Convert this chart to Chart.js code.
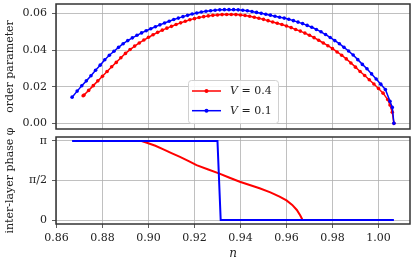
<!DOCTYPE html>
<html lang="en">
<head>
<meta charset="UTF-8">
<title>Order parameter and inter-layer phase</title>
<script src="https://cdn.jsdelivr.net/npm/chart.js"></script>
<style>
  body { margin: 0; background: #fff; }
  #wrap { position: relative; width: 415px; height: 264px; }
  #wrap canvas { position: absolute; left: 0; }
  #top { top: 0; }
  #bottom { top: 118px; }
</style>
</head>
<body>
<div id="wrap">
  <canvas id="top" width="415" height="133"></canvas>
  <canvas id="bottom" width="415" height="146"></canvas>
</div>
<script>
const PI = Math.PI;

// top panel: order parameter vs n
const nRed = [0.8716, 0.872, 0.874, 0.876, 0.878, 0.880, 0.882, 0.884, 0.886, 0.888, 0.890, 0.892, 0.894, 0.896, 0.898,
  0.900, 0.902, 0.904, 0.906, 0.908, 0.910, 0.912, 0.914, 0.916, 0.918, 0.920, 0.922, 0.924, 0.926, 0.928,
  0.930, 0.932, 0.934, 0.936, 0.938, 0.940, 0.942, 0.944, 0.946, 0.948, 0.950, 0.952, 0.954, 0.956, 0.958,
  0.960, 0.962, 0.964, 0.966, 0.968, 0.970, 0.972, 0.974, 0.976, 0.978, 0.980, 0.982, 0.984, 0.986, 0.988,
  0.990, 0.992, 0.994, 0.996, 0.998, 1.000, 1.002, 1.004, 1.005, 1.006, 1.0067];
const opRed = [0.0151, 0.0155, 0.0180, 0.0206, 0.0232, 0.0257, 0.0283, 0.0309, 0.0333, 0.0358, 0.0382, 0.0403, 0.0422, 0.0439, 0.0455,
  0.0470, 0.0484, 0.0497, 0.0509, 0.0520, 0.0530, 0.0540, 0.0549, 0.0558, 0.0566, 0.0572, 0.0578, 0.0583, 0.0587, 0.0590,
  0.0592, 0.0594, 0.0595, 0.0595, 0.0594, 0.0592, 0.0589, 0.0585, 0.0580, 0.0574, 0.0568, 0.0561, 0.0554, 0.0547, 0.0540,
  0.0532, 0.0523, 0.0513, 0.0504, 0.0493, 0.0481, 0.0468, 0.0454, 0.0439, 0.0424, 0.0408, 0.0390, 0.0372, 0.0352, 0.0330,
  0.0307, 0.0283, 0.0261, 0.0238, 0.0215, 0.0190, 0.0165, 0.0130, 0.0100, 0.0061, 0.0000];

const nBlue = [0.8668, 0.869, 0.871, 0.873, 0.875, 0.877, 0.879, 0.881, 0.883, 0.885, 0.887, 0.889, 0.891, 0.893, 0.895,
  0.897, 0.899, 0.901, 0.903, 0.905, 0.907, 0.909, 0.911, 0.913, 0.915, 0.917, 0.919, 0.921, 0.923, 0.925,
  0.927, 0.929, 0.931, 0.933, 0.935, 0.937, 0.939, 0.941, 0.943, 0.945, 0.947, 0.949, 0.951, 0.953, 0.955,
  0.957, 0.959, 0.961, 0.963, 0.965, 0.967, 0.969, 0.971, 0.973, 0.975, 0.977, 0.979, 0.981, 0.983, 0.985,
  0.987, 0.989, 0.991, 0.993, 0.995, 0.997, 0.999, 1.001, 1.003, 1.005, 1.006, 1.0067];
const opBlue = [0.0143, 0.0176, 0.0205, 0.0232, 0.0260, 0.0290, 0.0318, 0.0347, 0.0372, 0.0394, 0.0415, 0.0435, 0.0452, 0.0467, 0.0481,
  0.0494, 0.0506, 0.0517, 0.0528, 0.0538, 0.0548, 0.0558, 0.0567, 0.0575, 0.0583, 0.0590, 0.0597, 0.0603, 0.0608, 0.0612,
  0.0615, 0.0618, 0.0620, 0.0621, 0.0621, 0.0621, 0.0620, 0.0618, 0.0615, 0.0611, 0.0606, 0.0601, 0.0596, 0.0591, 0.0585,
  0.0580, 0.0575, 0.0569, 0.0561, 0.0553, 0.0545, 0.0535, 0.0525, 0.0513, 0.0500, 0.0485, 0.0469, 0.0452, 0.0435, 0.0415,
  0.0395, 0.0373, 0.0348, 0.0322, 0.0298, 0.0270, 0.0242, 0.0214, 0.0185, 0.0120, 0.0087, 0.0000];

// bottom panel: inter-layer phase vs n
const nRedPhase = [0.8716, 0.8970, 0.8990, 0.9030, 0.9065, 0.9100, 0.9137, 0.9175, 0.9209, 0.9260, 0.9306,
  0.9350, 0.9397, 0.9440, 0.9483, 0.9530, 0.9570, 0.9600, 0.9625, 0.9645, 0.9660, 0.9670];
const phaseRed = [PI, PI, 3.08, 2.95, 2.81, 2.66, 2.51, 2.34, 2.18, 2.01, 1.855,
  1.69, 1.523, 1.39, 1.263, 1.10, 0.931, 0.78, 0.60, 0.40, 0.18, 0];
const nBluePhase = [0.8668, 0.9300, 0.9314, 1.0067];
const phaseBlue = [PI, PI, 0, 0];

const seriesLabels = ['V = 0.4', 'V = 0.1'];
const seriesColors = ['#ff0000', '#0000ff'];
const xTicks = [0.86, 0.88, 0.90, 0.92, 0.94, 0.96, 0.98, 1.00];
const opTicks = [0, 0.02, 0.04, 0.06];
const phaseTicks = [0, PI / 2, PI];
const phaseTickLabels = ['0', 'π/2', 'π'];

const toPts = (xs, ys) => xs.map((x, i) => ({ x: x, y: ys[i] }));

Chart.defaults.font.family = "'DejaVu Serif', serif";
Chart.defaults.font.size = 11;
Chart.defaults.color = '#222';

// full box around the plot area, like matplotlib
const frame = {
  id: 'frame',
  afterDatasetsDraw(chart) {
    const a = chart.chartArea, c = chart.ctx;
    c.save();
    c.strokeStyle = '#333';
    c.lineWidth = 1.5;
    c.strokeRect(a.left, a.top, a.right - a.left, a.bottom - a.top);
    c.restore();
  }
};

// legend box drawn inside the top panel
const boxLegend = {
  id: 'boxLegend',
  afterDraw(chart) {
    const c = chart.ctx;
    c.save();
    c.fillStyle = 'rgba(255,255,255,0.85)';
    c.strokeStyle = '#d0d0d0';
    c.lineWidth = 1;
    c.beginPath();
    c.roundRect(188.5, 80.5, 90, 43, 3);
    c.fill();
    c.stroke();
    chart.data.datasets.forEach((ds, i) => {
      const y = 91 + i * 19.7;
      c.strokeStyle = ds.borderColor;
      c.lineWidth = 1.5;
      c.beginPath();
      c.moveTo(192, y);
      c.lineTo(221, y);
      c.stroke();
      c.fillStyle = ds.borderColor;
      c.beginPath();
      c.arc(206.5, y, 2, 0, 2 * PI);
      c.fill();
      const parts = ds.label.split(' ');
      c.fillStyle = '#222';
      c.textBaseline = 'middle';
      c.font = "italic 11px 'DejaVu Serif'";
      c.fillText(parts[0], 230, y);
      const w = c.measureText(parts[0]).width;
      c.font = "11px 'DejaVu Serif'";
      c.fillText(' ' + parts.slice(1).join(' '), 230 + w, y);
    });
    c.restore();
  }
};

function noPad(s) {
  s.paddingTop = 0; s.paddingBottom = 0; s.paddingLeft = 0; s.paddingRight = 0;
}

function xScale(showLabels) {
  return {
    type: 'linear',
    min: 0.8598,
    max: 1.0137,
    afterBuildTicks: s => { s.ticks = xTicks.map(v => ({ value: v })); },
    ticks: { display: showLabels, padding: 4, maxRotation: 0, callback: v => v.toFixed(2) },
    grid: { color: '#b0b0b0', lineWidth: 0.8, drawTicks: showLabels, tickLength: 4, tickColor: '#333' },
    border: { display: false },
    title: showLabels
      ? { display: true, text: 'n', font: { style: 'italic', size: 12 }, padding: { top: 0, bottom: 3 } }
      : { display: false },
    afterFit: s => { s.height = showLabels ? 40 : 3; noPad(s); }
  };
}

function yScale(opts) {
  return {
    type: 'linear',
    min: opts.min,
    max: opts.max,
    afterBuildTicks: s => { s.ticks = opts.ticks.map(v => ({ value: v })); },
    ticks: { padding: 5, callback: opts.label },
    grid: { color: '#b0b0b0', lineWidth: 0.8, tickLength: 4, tickColor: '#333' },
    border: { display: false },
    title: { display: true, text: opts.title, padding: { top: 4, bottom: 0 } },
    afterFit: s => { s.width = 56; noPad(s); }
  };
}

const common = {
  responsive: false,
  animation: false,
  events: [],
  plugins: { legend: { display: false }, tooltip: { enabled: false } }
};

new Chart(document.getElementById('top'), {
  type: 'scatter',
  data: {
    datasets: [
      { label: seriesLabels[0], data: toPts(nRed, opRed), order: 1 },
      { label: seriesLabels[1], data: toPts(nBlue, opBlue), order: 0 }
    ].map((ds, i) => Object.assign(ds, {
      showLine: true,
      borderColor: seriesColors[i],
      backgroundColor: seriesColors[i],
      borderWidth: 1.5,
      pointRadius: 1.8,
      pointBorderWidth: 0
    }))
  },
  options: Object.assign({}, common, {
    layout: { padding: { top: 1, right: 5, left: 0, bottom: 0 } },
    scales: {
      x: xScale(false),
      y: yScale({ min: -0.0031, max: 0.0652, ticks: opTicks, label: v => v.toFixed(2), title: 'order parameter' })
    }
  }),
  plugins: [frame, boxLegend]
});

new Chart(document.getElementById('bottom'), {
  type: 'scatter',
  data: {
    datasets: [
      { label: seriesLabels[0], data: toPts(nRedPhase, phaseRed), order: 1 },
      { label: seriesLabels[1], data: toPts(nBluePhase, phaseBlue), order: 0 }
    ].map((ds, i) => Object.assign(ds, {
      showLine: true,
      borderColor: seriesColors[i],
      backgroundColor: seriesColors[i],
      borderWidth: 2,
      pointRadius: 0
    }))
  },
  options: Object.assign({}, common, {
    layout: { padding: { top: 19, right: 5, left: 0, bottom: 0 } },
    scales: {
      x: xScale(true),
      y: yScale({
        min: -0.157, max: 3.299, ticks: phaseTicks,
        label: v => phaseTickLabels[phaseTicks.indexOf(v)],
        title: 'inter-layer phase φ'
      })
    }
  }),
  plugins: [frame]
});
</script>
</body>
</html>
